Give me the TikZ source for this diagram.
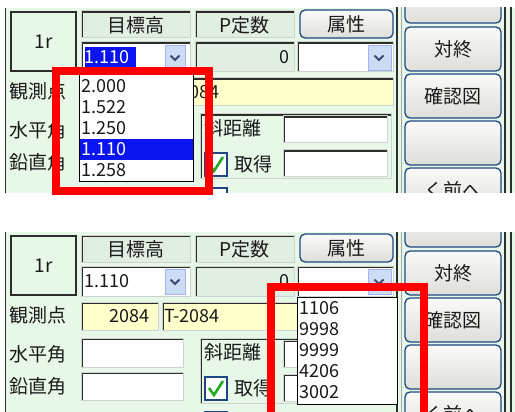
\documentclass[tikz,border=0pt]{standalone}
\usepackage{fontspec}
\setmainfont{Noto Sans CJK JP}
\usetikzlibrary{positioning}

\definecolor{panelgreen}{RGB}{232,248,232}
\definecolor{hdrgreen}{RGB}{226,238,226}
\definecolor{fieldyellow}{RGB}{255,255,204}
\definecolor{edgedark}{RGB}{45,45,45}
\definecolor{edgelight}{RGB}{205,212,205}
\definecolor{btnblue}{RGB}{30,70,130}
\definecolor{btntop}{RGB}{250,250,248}
\definecolor{btnbot}{RGB}{222,222,218}
\definecolor{ddblue}{RGB}{205,220,245}
\definecolor{chevron}{RGB}{60,75,115}
\definecolor{selblue}{RGB}{10,20,240}
\definecolor{markred}{RGB}{255,0,0}
\definecolor{checkgreen}{RGB}{30,170,30}
\definecolor{txt}{RGB}{25,25,25}

\tikzset{
  lbl/.style={inner sep=0pt, text=txt, font=\fontsize{19}{20}\selectfont},
  num/.style={inner sep=0pt, text=txt, font=\fontsize{18}{20}\selectfont},
  sunken/.style={fill=white, draw=edgelight, line width=1pt,
    path picture={\draw[edgedark, line width=4pt]
      (path picture bounding box.south west) |- (path picture bounding box.north east);}},
  btn/.style={draw=btnblue, line width=1.3pt, rounded corners=5pt,
    top color=btntop, bottom color=btnbot},
  ddbtn/.style={fill=ddblue, draw=ddblue!80!blue, line width=.6pt},
  chev/.style={draw=chevron, line width=1.8pt},
  listbox/.style={fill=white, draw=black, line width=1pt},
  checkbox/.style={fill=white, draw=btnblue, line width=1.4pt},
  redframe/.style={draw=markred, line width=8pt}
}

\begin{document}
\begin{tikzpicture}[x=1pt, y=-1pt]
    \useasboundingbox (0,0) rectangle (515,412);
    \clip (0,0) rectangle (515,412);
    \fill[white] (0,0) rectangle (515,412);

    % the two copies of the form
    \foreach \p/\dy/\bot in {t/0/193, b/224/188}{
    \begin{scope}[shift={(0,\dy)}]
    \begin{scope}
    \clip (0,8) rectangle (515,\bot);
    \fill[panelgreen] (5,8) rectangle (515,215);
    \draw[edgedark, line width=1.3pt] (5.6,8)--(5.6,215);

    \draw[edgedark, line width=1.6pt, fill=panelgreen] (10.8,11.8) rectangle (76.2,71.2);
    \node[lbl] (round\p) at (43.5,42) {1r};

    % headers
    \draw[sunken, fill=hdrgreen] (81,11) rectangle (190,38);
    \node[lbl] (height\p) at (135.5,25) {目標高};
    \draw[sunken, fill=hdrgreen] (195,11) rectangle (294,38);
    \node[lbl] (pconst\p) at (244.5,25) {P定数};
    \draw[btn] (300,10) rectangle (393,38);
    \node[lbl] (attr\p) at (346.5,24) {属性};

    % combo boxes
    \draw[sunken] (81,42) rectangle (190,72);
    \draw[ddbtn] (165,45) rectangle (185,70);
    \draw[chev] (170.5,55.5)--(175,60)--(179.5,55.5);
    \draw[sunken, fill=hdrgreen] (195,42) rectangle (294,72);
    \node[num, anchor=east] (pval\p) at (290,57) {0};
    \draw[sunken] (297,42) rectangle (393,72);
    \draw[ddbtn] (368,45) rectangle (391,70);
    \draw[chev] (374.5,55.5)--(379,60)--(383.5,55.5);

    % observation point
    \node[lbl, anchor=west] (obs\p) at (9,91) {観測点};
    \draw[sunken, fill=fieldyellow] (81,78) rectangle (158,106);
    \ifnum\dy>0
      \node[num, anchor=east] (ptno\p) at (150,92) {2084};
    \fi
    \draw[sunken, fill=fieldyellow] (162,78) rectangle (393,106);
    \node[num, anchor=west] (ptname\p) at (164,92) {T-2084};

    % angles
    \node[lbl, anchor=west] (hang\p) at (9,130) {水平角};
    \draw[sunken] (81,114) rectangle (183,143);
    \node[lbl, anchor=west] (vang\p) at (9,162) {鉛直角};
    \draw[sunken] (81,148) rectangle (183,176);

    % slope distance group
    \draw[sunken, fill=panelgreen] (200,114) rectangle (391,179);
    \node[lbl, anchor=west] (sdist\p) at (204,128) {斜距離};
    \draw[sunken] (283,116) rectangle (387,143);
    \draw[checkbox] (205,153) rectangle (227,176);
    \draw[checkgreen, line width=2.6pt] (209,164)--(214,171)--(223,157);
    \node[lbl, anchor=west] (get\p) at (234,164) {取得};
    \draw[sunken] (283,150) rectangle (387,177);
    \draw[checkbox] (205,188) rectangle (227,211);

    % button column
    \draw[edgedark, line width=1.2pt] (397,0)--(397,215);
    \draw[gray!70, line width=.8pt] (401,0)--(401,215);
    \draw[edgedark, line width=1.2pt] (505,0)--(505,215);
    \draw[edgedark, line width=1.2pt] (511,0)--(511,215);
    \foreach \by in {-21,27,74,121,168}
      \draw[btn] (405,\by) rectangle (501,\by+44);
    \node[lbl] (fin\p) at (453,49) {対終};
    \node[lbl] (chk\p) at (453,96) {確認図};
    \node[lbl] (prev\p) at (453,190) {く前へ};
    \end{scope}
    \end{scope}
    }

    % upper form: height list open
    \fill[selblue] (85,47) rectangle (136,67);
    \node[num, anchor=west, text=white] (htsel) at (84,57) {1.110};
    \draw[listbox] (79,75) rectangle (193,182);
    \fill[selblue] (79.5,139) rectangle (192.5,160);
    \node[num, anchor=west] (ht1) at (81,86.5) {2.000};
    \node[num, anchor=west] (ht2) at (81,107.5) {1.522};
    \node[num, anchor=west] (ht3) at (81,128.5) {1.250};
    \node[num, anchor=west, text=white] (ht4) at (81,149.5) {1.110};
    \node[num, anchor=west] (ht5) at (81,170.5) {1.258};
    \draw[redframe] (56,71) rectangle (209,191);

    % lower form: attribute list open
    \node[num, anchor=west] (htval) at (84,281) {1.110};
    \draw[listbox] (297,297) rectangle (397,404);
    \node[num, anchor=west] (at1) at (299,308.5) {1106};
    \node[num, anchor=west] (at2) at (299,329.5) {9998};
    \node[num, anchor=west] (at3) at (299,350.5) {9999};
    \node[num, anchor=west] (at4) at (299,371.5) {4206};
    \node[num, anchor=west] (at5) at (299,392.5) {3002};
    \draw[redframe] (271,287) rectangle (424,420);
\end{tikzpicture}
\end{document}
